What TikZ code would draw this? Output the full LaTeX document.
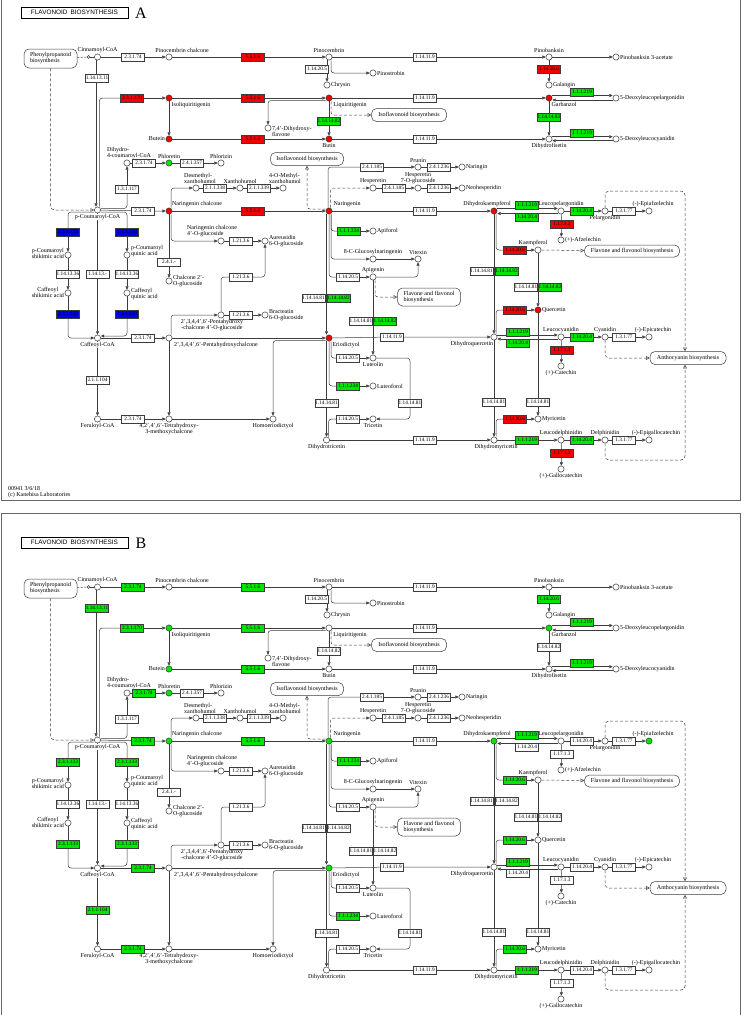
\documentclass[tikz,border=0pt]{standalone}
\usepackage{fontspec}
\setmainfont{Liberation Serif}
\newfontfamily\titlefont{Liberation Sans}
\usetikzlibrary{arrows.meta}
\pgfdeclarelayer{bg}
\pgfsetlayers{bg,main}

\definecolor{kred}{RGB}{245,0,0}
\definecolor{kgreen}{RGB}{0,230,0}
\definecolor{kblue}{RGB}{0,0,235}
\definecolor{kline}{RGB}{60,60,60}

\newcommand\cpdfont{\fontsize{6}{6}\selectfont}
\newcommand\ecfont{\fontsize{5.3}{5.3}\selectfont}

% colours of boxes and compounds, per panel
\newcommand\setcols[3]{\foreach \k in {#3}{\expandafter\xdef\csname ecc@#1@\k\endcsname{#2}}}
\setcols{A}{kred}{b2,b5,b7,b8,b13,b26,b32,b48,b55,b62,b70,b77,iso,but,liq,btn,nch,nar,eri,gar,dhk,que}
\setcols{A}{kgreen}{b10,b11,b12,b15,b28,b29,b30,b33,b46,b50,b52,b54,b58,b59,b60,b64,b74,b75,phl}
\setcols{A}{kblue}{b34,b35,b39,b40}
\setcols{B}{kgreen}{b1,b2,b5,b6,b7,b8,b10,b13,b15,b17,b25,b26,b28,b33,b34,b35,b39,b40,b48,b55,b56,b58,b64,b65,b70,b71,b74,iso,but,nch,nar,eri,dhk,epa,gar,phl}

\tikzset{
  col/.code={\ifcsname ecc@\curpanel @#1\endcsname
    \edef\tmpfill{\noexpand\pgfkeysalso{fill=\csname ecc@\curpanel @#1\endcsname}}\tmpfill\fi},
  cpd/.style={circle, draw=kline, line width=0.5pt, fill=white, inner sep=0pt, minimum size=6.2pt, col=#1},
  cpd/.default=none,
  ec/.style={draw=kline, line width=0.45pt, fill=white, inner sep=0pt, minimum width=23pt, minimum height=7.6pt, font=\ecfont, col=#1},
  ln/.style={draw=kline, line width=0.5pt},
  rxn/.style={ln, -{Triangle[length=3.3pt,width=3pt]}},
  maplink/.style={ln, dash pattern=on 3pt off 2pt, -{Triangle[open,length=3.6pt,width=3.6pt]}},
  dashrxn/.style={rxn, dash pattern=on 3pt off 2pt},
  mapbox/.style={draw=kline, line width=0.5pt, rounded corners=5pt, fill=white, font=\cpdfont, align=left, minimum height=13pt, inner sep=1pt},
  link/.style={circle, draw=kline, line width=0.5pt, fill=white, inner sep=0pt, minimum size=3pt},
  frame/.style={draw=black!60, line width=1pt},
  titlebox/.style={draw=black, line width=0.6pt, minimum width=107pt, minimum height=11pt, inner sep=0pt, font=\titlefont\fontsize{6.4}{6.4}\selectfont},
  panellabel/.style={font=\fontsize{16}{16}\selectfont, inner sep=0pt},
  foot/.style={font=\cpdfont, anchor=west, inner sep=0pt},
}

% one flavonoid map, #1 = panel letter
\newcommand\flavmap[1]{%
\def\curpanel{#1}%
\draw[frame] (1,-17) rectangle (740,500);
\node[titlebox] (title) at (74.5,12.5) {FLAVONOID\enspace BIOSYNTHESIS};
\node[panellabel] (letter) at (141,13) {#1};
% other maps
\node[mapbox, minimum width=53pt, minimum height=19pt] (ppb) at (50.5,58.5) {Phenylpropanoid\\biosynthesis};
\node[mapbox, minimum width=75pt] (ifb1) at (409,115) {Isoflavonoid biosynthesis};
\node[mapbox, minimum width=73pt] (ifb2) at (307,159) {Isoflavonoid biosynthesis};
\node[mapbox, minimum width=63pt, minimum height=18pt] (ffb1) at (429,297) {Flavone and flavonol\\biosynthesis};
\node[mapbox, minimum width=95pt, minimum height=12pt] (ffb2) at (632,251) {Flavone and flavonol biosynthesis};
\node[mapbox, minimum width=76pt] (anb) at (688,358) {Anthocyanin biosynthesis};
\coordinate (lt) at (685,191);
\coordinate (lb) at (685,460);
% compounds
\node[link] (lk) at (88.5,57) {};
\node[cpd=cin, label=above:Cinnamoyl-CoA] (cin) at (97.5,57) {};
\node[cpd=pcb, label={[xshift=13pt]above:Pinocembrin chalcone}] (pcb) at (169,57) {};
\node[cpd=pcm, label=above:Pinocembrin] (pcm) at (329,57) {};
\node[cpd=pbk, label=above:Pinobanksin] (pbk) at (549,57) {};
\node[cpd=pba, label=right:Pinobanksin 3-acetate] (pba) at (616,57) {};
\node[cpd=chr, label=right:Chrysin] (chr) at (327,85) {};
\node[cpd=pst, label=right:Pinostrobin] (pst) at (373,73) {};
\node[cpd=gal, label=right:Galangin] (gal) at (549,85) {};
\node[cpd=iso, label={[xshift=22pt]below:Isoliquiritigenin}] (iso) at (169,98) {};
\node[cpd=liq, label={[xshift=21pt]below:Liquiritigenin}] (liq) at (329,98) {};
\node[cpd=gar, label={[xshift=15pt]below:Garbanzol}] (gar) at (549,98) {};
\node[cpd=dlp, label=right:5-Deoxyleucopelargonidin] (dlp) at (616,98) {};
\node[cpd=dhx, label={[align=left,yshift=-3pt]right:7,4'-Dihydroxy-\\flavone}] (dhx) at (268,128) {};
\node[cpd=but, label=left:Butein] (but) at (169,139) {};
\node[cpd=btn, label=below:Butin] (btn) at (329,139) {};
\node[cpd=dhf, label=below:Dihydrofisetin] (dhf) at (549,139) {};
\node[cpd=dlc, label=right:5-Deoxyleucocyanidin] (dlc) at (616,139) {};
\node[cpd=dcc, label={[align=left,xshift=2pt]above:Dihydro-\\4-coumaroyl-CoA}] (dcc) at (127,163) {};
\node[cpd=phl, label=above:Phloretin] (phl) at (169,163) {};
\node[cpd=phz, label=above:Phlorizin] (phz) at (221,163) {};
\node[cpd=prn, label=above:Prunin] (prn) at (418,167) {};
\node[cpd=nrg, label=right:Naringin] (nrg) at (462,167) {};
\node[cpd=hes, label=above:Hesperetin] (hes) at (373,188) {};
\node[cpd=h7g, label={above:Hesperetin\\7-O-glucoside}] (h7g) at (418,188) {};
\node[cpd=nhs, label=right:Neohesperidin] (nhs) at (462,188) {};
\node[cpd=dmx, label={[align=left,xshift=4pt]above:Desmethyl-\\xanthohumol}] (dmx) at (196,188) {};
\node[cpd=xan, label=above:Xanthohumol] (xan) at (240,188) {};
\node[cpd=mxa, label={[align=left,xshift=2pt]above:4-O-Methyl-\\xanthohumol}] (mxa) at (283,188) {};
\node[cpd=pcc, label={[fill=white]below:p-Coumaroyl-CoA}] (pcc) at (97.5,210) {};
\node[cpd=nch, label={[xshift=28pt]above:Naringenin chalcone}] (nch) at (169,211) {};
\node[cpd=nar, label={[xshift=18pt]above:Naringenin}] (nar) at (329,211) {};
\node[cpd=dhk, label={[xshift=-7pt]above:Dihydrokaempferol}] (dhk) at (494,211) {};
\node[cpd=lpg, label=above:Leucopelargonidin] (lpg) at (561,211) {};
\node[cpd=pel, label=below:Pelargonidin] (pel) at (605,211) {};
\node[cpd=epa, label={[xshift=4pt]above:(-)-Epiafzelechin}] (epa) at (649,211) {};
\node[cpd=afz, label=right:(+)-Afzelechin] (afz) at (561,240) {};
\node[cpd=ncg, label={[align=left,xshift=-9pt]above:Naringenin chalcone\\4'-O-glucoside}] (ncg) at (221,241) {};
\node[cpd=aur, label={[align=left]right:Aureusidin\\6-O-glucoside}] (aur) at (265,241) {};
\node[cpd=c2g, label={[align=left]right:Chalcone 2'-\\O-glucoside}] (c2g) at (169,281) {};
\node[cpd=phg, label={[xshift=-9pt]below:2',3,4,4',6'-Pentahydroxy\\-chalcone 4'-O-glucoside}] (phg) at (221,315) {};
\node[cpd=bra, label={[align=left]right:Bracteatin\\6-O-glucoside}] (bra) at (265,315) {};
\node[cpd=api, label=right:Apiforol] (api) at (373,231) {};
\node[cpd=cgn, label=above:8-C-Glucosylnaringenin] (cgn) at (373,259) {};
\node[cpd=vit, label=above:Vitexin] (vit) at (418,259) {};
\node[cpd=apg, label=above:Apigenin] (apg) at (373,277) {};
\node[cpd=kae, label={[xshift=-5pt]above:Kaempferol}] (kae) at (538,250) {};
\node[cpd=que, label=right:Quercetin] (que) at (538,310) {};
\node[cpd=pcs, label={[align=left,yshift=2pt]left:p-Coumaroyl\\shikimic acid}] (pcs) at (68,255) {};
\node[cpd=pcq, label={[align=left,yshift=4pt]right:p-Coumaroyl\\quinic acid}] (pcq) at (127,255) {};
\node[cpd=cfs, label={[yshift=1pt]left:Caffeoyl\\shikimic acid}] (cfs) at (68,293) {};
\node[cpd=cfq, label={[align=left,yshift=-1pt]right:Caffeoyl\\quinic acid}] (cfq) at (127,293) {};
\node[cpd=caf, label={[fill=white]below:Caffeoyl-CoA}] (caf) at (97.5,338) {};
\node[cpd=phc, label={[xshift=47pt]below:2',3,4,4',6'-Pentahydroxychalcone}] (phc) at (169,338) {};
\node[cpd=eri, label={[xshift=17pt]below:Eriodictyol}] (eri) at (329,338) {};
\node[cpd=dhq, label={[xshift=-22pt]below:Dihydroquercetin}] (dhq) at (494,337) {};
\node[cpd=lcy, label=above:Leucocyanidin] (lcy) at (561,337) {};
\node[cpd=cya, label=above:Cyanidin] (cya) at (605,337) {};
\node[cpd=epc, label={[xshift=4pt]above:(-)-Epicatechin}] (epc) at (649,337) {};
\node[cpd=cat, label=below:(+)-Catechin] (cat) at (561,366) {};
\node[cpd=lut, label=below:Luteolin] (lut) at (373,358) {};
\node[cpd=ltf, label=right:Luteoforol] (ltf) at (373,386) {};
\node[cpd=fer, label=below:Feruloyl-CoA] (fer) at (97.5,419) {};
\node[cpd=thm, label={below:4,2',4',6'-Tetrahydroxy-\\3-methoxychalcone}] (thm) at (169,419) {};
\node[cpd=hom, label=below:Homoeriodictyol] (hom) at (273,419) {};
\node[cpd=tri, label=below:Tricetin] (tri) at (373,419) {};
\node[cpd=myr, label=right:Myricetin] (myr) at (538,419) {};
\node[cpd=dht, label=below:Dihydrotricetin] (dht) at (326.5,440) {};
\node[cpd=dhm, label={[xshift=2pt]below:Dihydromyricetin}] (dhm) at (494,440) {};
\node[cpd=ldp, label=above:Leucodelphinidin] (ldp) at (561,440) {};
\node[cpd=del, label=above:Delphinidin] (del) at (605,440) {};
\node[cpd=egc, label={[xshift=7pt]above:(-)-Epigallocatechin}] (egc) at (649,440) {};
\node[cpd=gct, label=below:(+)-Gallocatechin] (gct) at (561,469) {};
% enzymes
\node[ec=b1] (b1) at (133,57) {2.3.1.74};
\node[ec=b2] (b2) at (253,57) {5.5.1.6};
\node[ec=b3] (b3) at (425,57) {1.14.11.9};
\node[ec=b4] (b4) at (317,69) {1.14.20.5};
\node[ec=b5] (b5) at (549,69) {1.14.20.6};
\node[ec=b6] (b6) at (97,78) {1.14.13.11};
\node[ec=b7] (b7) at (132,98) {2.3.1.170};
\node[ec=b8] (b8) at (253,98) {5.5.1.6};
\node[ec=b9] (b9) at (425,98) {1.14.11.9};
\node[ec=b10] (b10) at (582,92) {1.1.1.219};
\node[ec=b11] (b11) at (329,121) {1.14.14.82};
\node[ec=b12] (b12) at (549,117) {1.14.14.82};
\node[ec=b13] (b13) at (253,139) {5.5.1.6};
\node[ec=b14] (b14) at (425,139) {1.14.11.9};
\node[ec=b15] (b15) at (582,133) {1.1.1.219};
\node[ec=b16] (b16) at (127,189) {1.3.1.117};
\node[ec=b17] (b17) at (144,163) {2.3.1.74};
\node[ec=b18] (b18) at (192,163) {2.4.1.357};
\node[ec=b19] (b19) at (372,167) {2.4.1.185};
\node[ec=b20] (b20) at (439,167) {2.4.1.236};
\node[ec=b21] (b21) at (394,188) {2.4.1.185};
\node[ec=b22] (b22) at (439,188) {2.4.1.236};
\node[ec=b23] (b23) at (215,188) {2.1.1.338};
\node[ec=b24] (b24) at (259,188) {2.1.1.339};
\node[ec=b25] (b25) at (143,211) {2.3.1.74};
\node[ec=b26] (b26) at (253,211) {5.5.1.6};
\node[ec=b27] (b27) at (425,211) {1.14.11.9};
\node[ec=b28] (b28) at (527,205) {1.1.1.219};
\node[ec=b29] (b29) at (527,217) {1.14.20.4};
\node[ec=b30] (b30) at (582,211) {1.14.20.4};
\node[ec=b31] (b31) at (624,211) {1.3.1.77};
\node[ec=b32] (b32) at (562,224) {1.17.1.3};
\node[ec=b33] (b33) at (349,231) {1.1.1.234};
\node[ec=b34] (b34) at (68,232) {2.3.1.133};
\node[ec=b35] (b35) at (127,232) {2.3.1.133};
\node[ec=b36] (b36) at (68,274) {1.14.13.36};
\node[ec=b37] (b37) at (97.5,274) {1.14.13.-};
\node[ec=b38] (b38) at (127,274) {1.14.13.36};
\node[ec=b39] (b39) at (68,314) {2.3.1.133};
\node[ec=b40] (b40) at (127,314) {2.3.1.133};
\node[ec=b41] (b41) at (241,241) {1.21.3.6};
\node[ec=b42] (b42) at (169,262) {2.4.1.-};
\node[ec=b43] (b43) at (241,277) {1.21.3.6};
\node[ec=b44] (b44) at (241,315) {1.21.3.6};
\node[ec=b45] (b45) at (313.5,298) {1.14.14.81};
\node[ec=b46] (b46) at (338.5,298) {1.14.14.82};
\node[ec=b47] (b47) at (348,277) {1.14.20.5};
\node[ec=b48] (b48) at (515,250) {1.14.20.6};
\node[ec=b49] (b49) at (481.5,271) {1.14.14.81};
\node[ec=b50] (b50) at (506.5,271) {1.14.14.82};
\node[ec=b51] (b51) at (526,287) {1.14.14.81};
\node[ec=b52] (b52) at (550,287) {1.14.14.82};
\node[ec=b53] (b53) at (361,321) {1.14.14.81};
\node[ec=b54] (b54) at (385,321) {1.14.14.82};
\node[ec=b55] (b55) at (515,310) {1.14.20.6};
\node[ec=b56] (b56) at (143,338) {2.3.1.74};
\node[ec=b57] (b57) at (392,337) {1.14.11.9};
\node[ec=b58] (b58) at (518,332) {1.1.1.219};
\node[ec=b59] (b59) at (518,343) {1.14.20.4};
\node[ec=b60] (b60) at (582,337) {1.14.20.4};
\node[ec=b61] (b61) at (624,337) {1.3.1.77};
\node[ec=b62] (b62) at (562,350) {1.17.1.3};
\node[ec=b63] (b63) at (348,358) {1.14.20.5};
\node[ec=b64] (b64) at (348,386) {1.1.1.234};
\node[ec=b65] (b65) at (97.5,380) {2.1.1.104};
\node[ec=b66] (b66) at (326.5,403) {1.14.14.81};
\node[ec=b67] (b67) at (410,403) {1.14.14.81};
\node[ec=b68] (b68) at (494,402) {1.14.14.81};
\node[ec=b69] (b69) at (538,402) {1.14.14.81};
\node[ec=b70] (b70) at (515,419) {1.14.20.6};
\node[ec=b71] (b71) at (133,419) {2.3.1.74};
\node[ec=b72] (b72) at (348,419) {1.14.20.5};
\node[ec=b73] (b73) at (425,440) {1.14.11.9};
\node[ec=b74] (b74) at (527,440) {1.1.1.219};
\node[ec=b75] (b75) at (582,440) {1.14.20.4};
\node[ec=b76] (b76) at (624,440) {1.3.1.77};
\node[ec=b77] (b77) at (562,453) {1.17.1.3};
% connectors
\begin{pgfonlayer}{bg}
\draw[ln, dash pattern=on 2pt off 1.5pt] (ppb) -- (lk);
\draw[ln] (lk) -- (cin);
\draw[maplink, rounded corners=4pt] (ppb) |- (pcc);
\draw[rxn] (cin) -- (b1) -- (pcb);
\draw[rxn] (pcb) -- (b2) -- (pcm);
\draw[rxn] (pcm) -- (b3) -- (pbk);
\draw[rxn] (pbk) -- (pba);
\draw[rxn] (pcm.south -| chr) -- (chr);
\draw[rxn, rounded corners=3pt] ([xshift=2pt]pcm.south) |- (pst);
\draw[rxn] (pbk) -- (b5) -- (gal);
\draw[rxn] ([xshift=-1.5pt]cin.south) -- ([xshift=-1.5pt]pcc.north);
\draw[ln, rounded corners=3pt] ([xshift=1.8pt]pcc.north) |- (b7);
\draw[rxn] (b7) -- (iso);
\draw[rxn] (iso) -- (b8) -- (liq);
\draw[rxn] (liq) -- (b9) -- (gar);
\draw[rxn] ([yshift=2.5pt]gar.east) -- ([yshift=2.5pt]dlp.west);
\draw[rxn] ([yshift=-2pt]dlp.west) -- ([yshift=-2pt]gar.east);
\draw[rxn] (iso) -- (but);
\draw[rxn] (but) -- (b13) -- (btn);
\draw[rxn] (btn) -- (b14) -- (dhf);
\draw[rxn] ([yshift=2.3pt]dhf.east) -- ([yshift=2.3pt]dlc.west);
\draw[rxn] ([yshift=-1.7pt]dlc.west) -- ([yshift=-1.7pt]dhf.east);
\draw[rxn] (liq) -- (b11) -- (btn);
\draw[rxn] (gar) -- (b12) -- (dhf);
\draw[rxn, rounded corners=3pt] ([yshift=-2.5pt]liq.west) -| (dhx);
\draw[maplink, rounded corners=3pt] ([xshift=2pt]liq.south) |- (ifb1);
\draw[ln, rounded corners=3pt] ([yshift=1.5pt]pcc.east) -| (b16);
\draw[rxn] (b16) -- (dcc);
\draw[rxn] (dcc) -- (b17) -- (phl);
\draw[rxn] (phl) -- (b18) -- (phz);
\draw[rxn] (pcc) -- (b25) -- (nch);
\draw[rxn] (nch) -- (b26) -- (nar);
\draw[rxn] (nar) -- (b27) -- (dhk);
\draw[rxn, rounded corners=3pt] ([xshift=2pt]nch.north) |- (dmx);
\draw[rxn] (dmx) -- (b23) -- (xan);
\draw[rxn] (xan) -- (b24) -- (mxa);
\draw[rxn, rounded corners=3pt] ([xshift=2pt]nch.south) |- (ncg);
\draw[rxn] (ncg) -- (b41) -- (aur);
\draw[rxn] (nch) -- (b42) -- (c2g);
\draw[rxn, rounded corners=3pt] ([xshift=2pt]phc.north) |- (phg);
\draw[rxn] (phg) -- (b44) -- (bra);
\draw[ln, rounded corners=3pt] (phg.north) |- (b43);
\draw[rxn, rounded corners=3pt] (b43) -| (aur);
\draw[ln, rounded corners=3pt] ([xshift=2pt]nar.south) |- (b33);
\draw[rxn] (b33) -- (api);
\draw[rxn, rounded corners=3pt] ([xshift=2pt]nar.south) |- (cgn);
\draw[rxn] (cgn) -- (vit);
\draw[ln, rounded corners=3pt] (nar.south) |- (b47);
\draw[rxn] (b47) -- (apg);
\draw[rxn, rounded corners=3pt] (apg) -| (vit);
\draw[maplink, rounded corners=3pt] ([xshift=2pt]apg.south) |- (ffb1);
\draw[rxn] (apg) -- (lut);
\draw[rxn] ([xshift=-2.5pt]nar.south) -- ([xshift=-2.5pt]eri.north);
\draw[maplink, rounded corners=3pt] ([yshift=2pt]nar.west) -| (ifb2);
\draw[ln, rounded corners=3pt] ([xshift=-1pt]nar.north) |- (b19);
\draw[rxn] (b19) -- (prn);
\draw[rxn] (prn) -- (b20) -- (nrg);
\draw[dashrxn, rounded corners=3pt] ([xshift=1.5pt]nar.north) |- (hes);
\draw[rxn] (hes) -- (b21) -- (h7g);
\draw[rxn] (h7g) -- (b22) -- (nhs);
\draw[rxn] ([yshift=2.5pt]dhk.east) -- ([yshift=2.5pt]lpg.west);
\draw[rxn] ([yshift=-2.5pt]lpg.west) -- ([yshift=-2.5pt]dhk.east);
\draw[rxn] (lpg) -- (b30) -- (pel);
\draw[rxn] (pel) -- (b31) -- (epa);
\draw[rxn] (lpg) -- (b32) -- (afz);
\draw[maplink, rounded corners=4pt] (pel.north) |- (lt) -- (lt |- anb.north);
\draw[ln, rounded corners=3pt] ([xshift=2pt]dhk.south) |- (b48);
\draw[rxn] (b48) -- (kae);
\draw[maplink] (kae) -- (ffb2);
\draw[rxn] (kae) -- (que);
\draw[rxn] (dhk) -- (dhq);
\draw[ln, rounded corners=3pt] ([xshift=2pt]dhq.north) |- (b55);
\draw[rxn] (b55) -- (que);
\draw[rxn] (caf) -- (b56) -- (phc);
\draw[rxn] (phc) -- (eri);
\draw[rxn] (eri) -- (b57) -- (dhq);
\draw[rxn] ([yshift=2pt]dhq.east) -- ([yshift=2pt]lcy.west);
\draw[rxn] ([yshift=-2pt]lcy.west) -- ([yshift=-2pt]dhq.east);
\draw[rxn] (lcy) -- (b60) -- (cya);
\draw[rxn] (cya) -- (b61) -- (epc);
\draw[rxn] (lcy) -- (b62) -- (cat);
\draw[maplink, rounded corners=4pt] (cya.south) |- (anb);
\draw[maplink, rounded corners=4pt] (del.south) |- (lb) -- (lb |- anb.south);
\draw[ln, rounded corners=3pt] ([xshift=2pt]eri.south) |- (b63);
\draw[rxn] (b63) -- (lut);
\draw[ln, rounded corners=3pt] (eri.south) |- (b64);
\draw[rxn] (b64) -- (ltf);
\draw[rxn] ([xshift=-2.5pt]eri.south) -- (dht);
\draw[rxn, rounded corners=3pt] ([yshift=-2.5pt]eri.west) -| (hom);
\draw[rxn] (phc) -- (thm);
\draw[rxn] (thm) -- (hom);
\draw[rxn] (caf) -- (b65) -- (fer);
\draw[rxn] (fer) -- (b71) -- (thm);
\draw[ln, rounded corners=3pt] ([xshift=2pt]dht.north) |- (b72);
\draw[rxn] (b72) -- (tri);
\draw[rxn, rounded corners=3pt] (lut) -| (b67) |- (tri);
\draw[rxn] (dht) -- (b73) -- (dhm);
\draw[rxn] (dhq) -- (b68) -- (dhm);
\draw[rxn] (que) -- (b69) -- (myr);
\draw[ln, rounded corners=3pt] ([xshift=2pt]dhm.north) |- (b70);
\draw[rxn] (b70) -- (myr);
\draw[rxn] (dhm) -- (b74) -- (ldp);
\draw[rxn] (ldp) -- (b75) -- (del);
\draw[rxn] (del) -- (b76) -- (egc);
\draw[rxn] (ldp) -- (b77) -- (gct);
\draw[ln, rounded corners=3pt] ([yshift=-2pt]pcc.west) -| (b34);
\draw[rxn] (b34) -- (pcs);
\draw[rxn] (pcs) -- (b36) -- (cfs);
\draw[ln] (cfs) -- (b39);
\draw[rxn, rounded corners=3pt] (b39) |- (caf);
\draw[ln, rounded corners=3pt] ([yshift=-2pt]pcc.east) -| (b35);
\draw[rxn] (b35) -- (pcq);
\draw[rxn] (pcq) -- (b38) -- (cfq);
\draw[ln] (cfq) -- (b40);
\draw[rxn, rounded corners=3pt] (b40) |- ([yshift=2pt]caf.east);
\draw[rxn] (pcc) -- (b37) -- (caf);
\end{pgfonlayer}
}

\begin{document}
\begin{tikzpicture}[x=1pt, y=-1pt,
  every label/.style={font=\cpdfont, inner sep=0.5pt, align=center, text=black}]
\useasboundingbox (0,0) rectangle (744,1015);
\clip (0,0) rectangle (744,1015);
% panel A
\begin{scope}[name prefix=A-]
  \flavmap{A}
  \node[foot] (ver) at (8,489) {00941 3/6/18};
  \node[foot] (copy) at (8,495) {(c) Kanehisa Laboratories};
\end{scope}
% panel B
\begin{scope}[shift={(0,530)}, name prefix=B-]
  \flavmap{B}
\end{scope}
\end{tikzpicture}
\end{document}
